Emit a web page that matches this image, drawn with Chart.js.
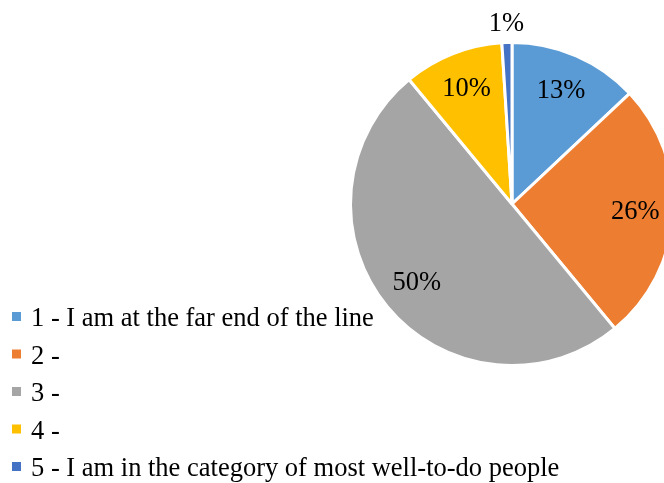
<!DOCTYPE html>
<html>
<head>
<meta charset="utf-8">
<script src="https://cdn.jsdelivr.net/npm/chart.js@4"></script>
<style>
  html, body { margin: 0; padding: 0; background: #fff; overflow: hidden; }
  #wrap { width: 664px; height: 483px; overflow: hidden; position: relative; }
  canvas { display: block; }
</style>
</head>
<body>
<div id="wrap">
  <canvas id="pie_chart" width="680" height="483"></canvas>
</div>
<script>
// Datos del gráfico
const categorias = [
    "1 - I am at the far end of the line",
    "2 -",
    "3 -",
    "4 -",
    "5 - I am in the category of most well-to-do people"
];
const porcentajes = [13, 26, 50, 10, 1];
const colores = ["#5B9BD5", "#ED7D31", "#A5A5A5", "#FFC000", "#4472C4"];

const fuente = "'Liberation Serif', 'Times New Roman', serif";

// Etiquetas de porcentaje sobre cada porción
const etiquetasPlugin = {
    id: "etiquetas",
    afterDatasetsDraw(chart) {
        const ctx = chart.ctx;
        const meta = chart.getDatasetMeta(0);
        ctx.save();
        ctx.font = "26.5px " + fuente;
        ctx.fillStyle = "#000";
        ctx.textAlign = "center";
        ctx.textBaseline = "middle";
        meta.data.forEach((arc, i) => {
            const mid = (arc.startAngle + arc.endAngle) / 2;
            // porciones pequeñas van afuera del pastel
            const r = porcentajes[i] < 3 ? arc.outerRadius + 19 : arc.outerRadius * 0.765;
            const x = arc.x + Math.cos(mid) * r;
            const y = arc.y + Math.sin(mid) * r;
            ctx.fillText(porcentajes[i] + "%", x, y);
        });
        ctx.restore();
    }
};

// Leyenda vertical abajo a la izquierda
const leyendaPlugin = {
    id: "leyenda",
    afterDraw(chart) {
        const ctx = chart.ctx;
        ctx.save();
        ctx.font = "26.5px " + fuente;
        ctx.textAlign = "left";
        ctx.textBaseline = "alphabetic";
        chart.data.labels.forEach((texto, i) => {
            const base = 326 + i * 37.5;
            ctx.fillStyle = chart.data.datasets[0].backgroundColor[i];
            ctx.fillRect(12, base - 14, 9, 9);
            ctx.fillStyle = "#000";
            ctx.fillText(texto, 31, base);
        });
        ctx.restore();
    }
};

const ctx = document.getElementById("pie_chart").getContext("2d");
const pieChart = new Chart(ctx, {
    type: "pie",
    data: {
        labels: categorias,
        datasets: [{
            data: porcentajes,
            backgroundColor: colores,
            borderColor: "#fff",
            borderWidth: 3
        }]
    },
    options: {
        responsive: false,
        animation: false,
        layout: {
            padding: { left: 349, top: 41, right: 5, bottom: 116 }
        },
        plugins: {
            legend: { display: false },
            tooltip: { enabled: false }
        }
    },
    plugins: [etiquetasPlugin, leyendaPlugin]
});
</script>
</body>
</html>
